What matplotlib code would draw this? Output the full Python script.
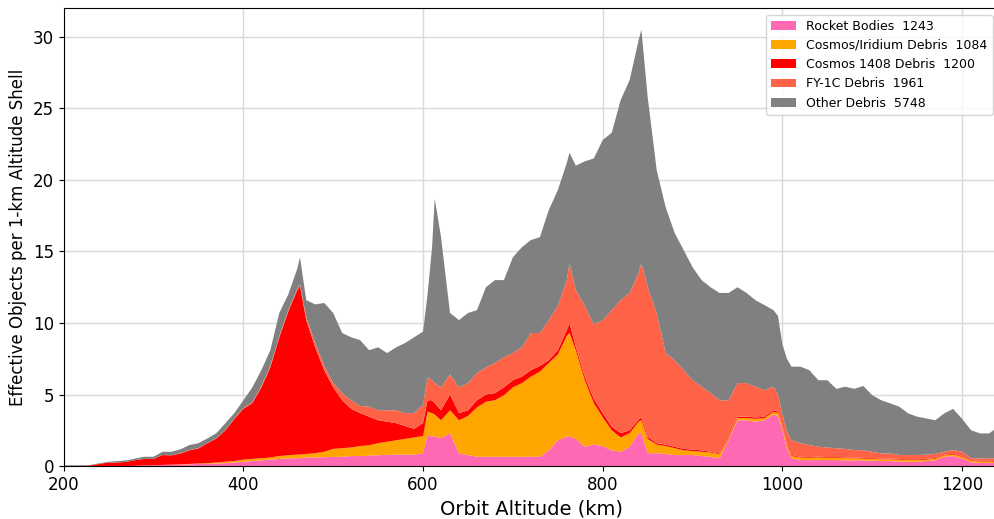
import matplotlib
matplotlib.use("Agg")
import matplotlib.pyplot as plt
import numpy as np

altitude_km = [
    200, 210, 220, 230, 240, 250, 260, 270, 280, 290,
    300, 310, 320, 330, 340, 350, 360, 370, 380, 390,
    400, 410, 420, 430, 440, 450, 460, 463, 470, 480,
    490, 500, 510, 520, 530, 540, 550, 560, 570, 580,
    590, 600, 605, 610, 613, 620, 630, 640, 650, 660,
    670, 680, 690, 700, 710, 720, 730, 740, 750, 760,
    763, 770, 780, 790, 800, 810, 820, 830, 840, 843,
    850, 860, 870, 880, 890, 900, 910, 920, 930, 940,
    950, 960, 970, 980, 990, 995, 1000, 1005, 1010, 1020,
    1030, 1040, 1050, 1060, 1070, 1080, 1090, 1100, 1110, 1120,
    1130, 1140, 1150, 1160, 1170, 1180, 1190, 1200, 1210, 1220,
    1230, 1240,
]

rocket_bodies = [
    0, 0, 0, 0, 0, 0, 0, 0, 0.02, 0.05,
    0.05, 0.08, 0.1, 0.1, 0.12, 0.15, 0.15, 0.18, 0.2, 0.25,
    0.3, 0.35, 0.4, 0.45, 0.5, 0.53, 0.55, 0.55, 0.6, 0.6,
    0.62, 0.64, 0.65, 0.7, 0.7, 0.72, 0.76, 0.78, 0.8, 0.8,
    0.8, 0.9, 2.2, 2.05, 2.1, 1.95, 2.3, 0.88, 0.77, 0.65,
    0.65, 0.65, 0.65, 0.65, 0.65, 0.65, 0.65, 1.1, 1.8, 2.05,
    2.1, 1.9, 1.35, 1.5, 1.4, 1.1, 1.0, 1.35, 2.3, 2.3,
    0.9, 0.9, 0.85, 0.77, 0.77, 0.77, 0.7, 0.65, 0.54, 1.8,
    3.2, 3.2, 3.1, 3.2, 3.6, 3.5, 2.5, 1.2, 0.54, 0.42,
    0.42, 0.42, 0.42, 0.42, 0.4, 0.4, 0.4, 0.38, 0.35, 0.35,
    0.32, 0.3, 0.3, 0.35, 0.4, 0.65, 0.7, 0.54, 0.25, 0.22,
    0.22, 0.21,
]

cosmos_iridium = [
    0, 0, 0, 0, 0, 0, 0, 0, 0, 0,
    0, 0, 0, 0.02, 0.03, 0.03, 0.05, 0.07, 0.1, 0.1,
    0.15, 0.15, 0.15, 0.15, 0.2, 0.23, 0.25, 0.25, 0.25, 0.3,
    0.38, 0.56, 0.6, 0.6, 0.7, 0.73, 0.84, 0.92, 1.0, 1.1,
    1.2, 1.2, 1.6, 1.65, 1.5, 1.25, 1.6, 2.32, 2.73, 3.45,
    3.85, 3.95, 4.3, 4.85, 5.15, 5.6, 5.95, 6.1, 6.0, 7.05,
    7.2, 6.2, 4.65, 2.9, 2.0, 1.4, 1.0, 0.95, 0.8, 0.9,
    1.0, 0.6, 0.55, 0.48, 0.33, 0.28, 0.3, 0.3, 0.28, 0.1,
    0.15, 0.15, 0.2, 0.15, 0.2, 0.2, 0.2, 0.2, 0.16, 0.18,
    0.16, 0.18, 0.16, 0.16, 0.15, 0.15, 0.12, 0.12, 0.12, 0.12,
    0.13, 0.12, 0.12, 0.1, 0.1, 0.1, 0.1, 0.11, 0.1, 0.1,
    0.1, 0.09,
]

cosmos_1408 = [
    0, 0, 0, 0.05, 0.15, 0.25, 0.25, 0.3, 0.4, 0.45,
    0.45, 0.69, 0.65, 0.76, 0.95, 1.05, 1.4, 1.68, 2.2, 2.95,
    3.55, 3.9, 4.95, 6.3, 8.3, 10.04, 11.5, 11.8, 9.35, 7.4,
    5.7, 4.3, 3.35, 2.7, 2.3, 2.0, 1.6, 1.4, 1.2, 0.9,
    0.6, 0.9, 0.8, 0.9, 0.8, 0.7, 1.1, 0.5, 0.4, 0.5,
    0.5, 0.5, 0.55, 0.5, 0.45, 0.45, 0.4, 0.2, 0.3, 0.4,
    0.7, 0.25, 0.25, 0.3, 0.3, 0.25, 0.3, 0.2, 0.15, 0.2,
    0.15, 0.1, 0.1, 0.1, 0.1, 0.1, 0.1, 0.05, 0.06, 0.1,
    0.1, 0.1, 0.1, 0.1, 0.1, 0.1, 0.1, 0.1, 0.07, 0.05,
    0.05, 0.05, 0.05, 0.05, 0.05, 0.05, 0.05, 0.05, 0.05, 0.05,
    0.05, 0.05, 0.05, 0.05, 0.05, 0.05, 0.05, 0.05, 0.05, 0.05,
    0.05, 0.05,
]

fy1c = [
    0, 0, 0, 0, 0, 0, 0, 0, 0, 0,
    0, 0, 0, 0.02, 0.02, 0.02, 0.02, 0.02, 0.02, 0.05,
    0.05, 0.05, 0.1, 0.1, 0.1, 0.1, 0.1, 0.1, 0.2, 0.3,
    0.3, 0.3, 0.5, 0.6, 0.5, 0.7, 0.7, 0.8, 0.9, 0.9,
    1.1, 1.3, 1.6, 1.4, 1.4, 1.6, 1.4, 1.8, 1.9, 1.9,
    1.9, 2.1, 2.1, 1.9, 2.05, 2.6, 2.3, 2.8, 3.1, 3.5,
    4.2, 3.95, 4.95, 5.2, 6.5, 8.15, 9.3, 9.6, 10.25, 10.8,
    10.45, 9.1, 6.4, 6.05, 5.5, 4.85, 4.45, 4.1, 3.72, 2.6,
    2.35, 2.35, 2.15, 1.85, 1.65, 1.2, 0.8, 0.9, 1.03, 0.95,
    0.84, 0.7, 0.67, 0.61, 0.6, 0.52, 0.53, 0.45, 0.36, 0.36,
    0.27, 0.3, 0.3, 0.3, 0.3, 0.2, 0.27, 0.3, 0.14, 0.17,
    0.17, 0.19,
]

other_debris = [
    0.05, 0.05, 0.06, 0.03, 0.05, 0.05, 0.1, 0.1, 0.11, 0.15,
    0.15, 0.23, 0.25, 0.27, 0.35, 0.35, 0.31, 0.35, 0.48, 0.35,
    0.55, 1.05, 1.1, 1.1, 1.6, 1.1, 1.4, 1.9, 1.2, 2.7,
    4.4, 4.9, 4.2, 4.4, 4.6, 3.95, 4.4, 4.0, 4.4, 4.9,
    5.3, 5.1, 5.8, 9.3, 12.9, 10.5, 4.3, 4.7, 4.9, 4.4,
    5.6, 5.8, 5.4, 6.7, 7.0, 6.5, 6.7, 7.7, 8.1, 8.2,
    7.7, 8.7, 10.1, 11.6, 12.6, 12.4, 14.0, 14.9, 16.3, 16.3,
    13.3, 10.0, 10.2, 8.9, 8.4, 7.9, 7.45, 7.4, 7.5, 7.5,
    6.7, 6.3, 6.05, 5.95, 5.35, 5.5, 4.9, 5.1, 5.15, 5.35,
    5.23, 4.65, 4.7, 4.16, 4.35, 4.28, 4.5, 3.95, 3.72, 3.5,
    3.38, 2.91, 2.68, 2.53, 2.35, 2.68, 2.88, 2.3, 1.96, 1.74,
    1.74, 2.21,
]

series_labels = [
    "Rocket Bodies  1243",
    "Cosmos/Iridium Debris  1084",
    "Cosmos 1408 Debris  1200",
    "FY-1C Debris  1961",
    "Other Debris  5748",
]
series_colors = ["hotpink", "orange", "red", "tomato", "gray"]

fig = plt.figure(figsize=(9.95, 5.19), dpi=100)
ax = fig.add_axes([0.064, 0.102, 0.94, 0.882])

ax.stackplot(altitude_km, rocket_bodies, cosmos_iridium, cosmos_1408, fy1c,
             other_debris, labels=series_labels, colors=series_colors,
             linewidth=0)

ax.set_xlim(200, 1241)
ax.set_ylim(0, 32)
ax.set_axisbelow(True)
ax.grid(True, color="#d9d9d9", linewidth=1)
ax.tick_params(labelsize=12)
ax.set_xlabel("Orbit Altitude (km)", fontsize=14)
ax.set_ylabel("Effective Objects per 1-km Altitude Shell", fontsize=12)
ax.legend(loc="upper right", fontsize=9)

fig.savefig("out.png", dpi=100)
